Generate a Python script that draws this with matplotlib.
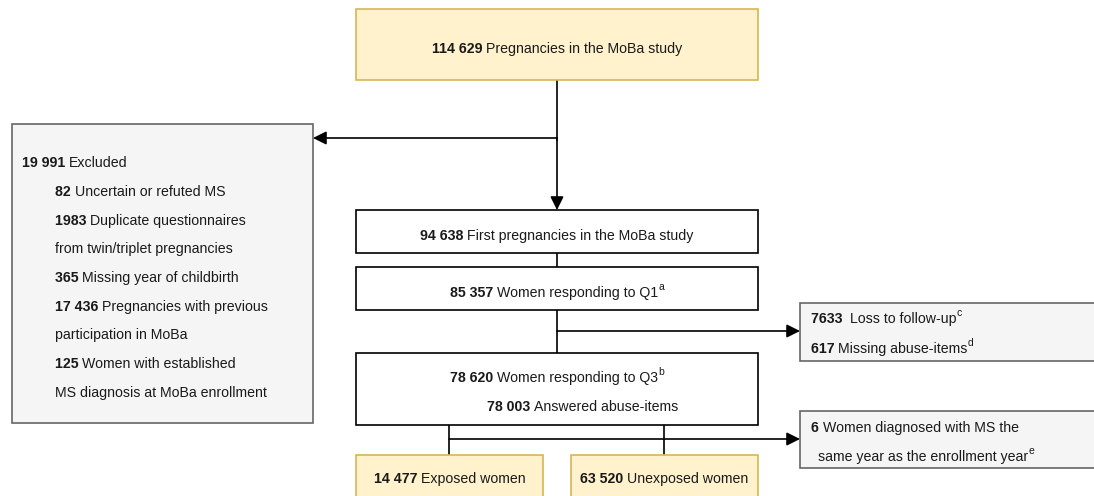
import matplotlib.pyplot as plt
from matplotlib.patches import Rectangle

plt.rcParams['font.family'] = ['Liberation Sans', 'DejaVu Sans']

# flow counts and labels
top_count, top_label = "114 629", "Pregnancies in the MoBa study"
excl_total, excl_title = "19 991", "Excluded"
excl_counts = ["82", "1983", "", "365", "17 436", "", "125", ""]
excl_labels = ["Uncertain or refuted MS", "Duplicate questionnaires",
               "from twin/triplet pregnancies", "Missing year of childbirth",
               "Pregnancies with previous", "participation in MoBa",
               "Women with established", "MS diagnosis at MoBa enrollment"]
first_count, first_label = "94 638", "First pregnancies in the MoBa study"
q1_count, q1_label = "85 357", "Women responding to Q1"
loss_counts = ["7633 ", "617"]
loss_labels = ["Loss to follow-up", "Missing abuse-items"]
loss_notes = ["c", "d"]
q3_count, q3_label = "78 620", "Women responding to Q3"
abuse_count, abuse_label = "78 003", "Answered abuse-items"
ms_count = "6"
ms_labels = ["Women diagnosed with MS the", "same year as the enrollment year"]
group_counts = ["14 477", "63 520"]
group_labels = ["Exposed women", "Unexposed women"]

YEL, YEL_E = '#fff2cc', '#d6b656'
GRY, GRY_E = '#f5f5f5', '#666666'
FS = 10.2

fig = plt.figure(figsize=(10.94, 4.96), dpi=100)
ax = fig.add_axes([0, 0, 1, 1])
ax.set_xlim(0, 1094)
ax.set_ylim(496, 0)
ax.axis('off')
renderer = fig.canvas.get_renderer()


def box(x0, y0, x1, y1, fc='white', ec='black'):
    ax.add_patch(Rectangle((x0, y0), x1 - x0, y1 - y0, facecolor=fc,
                           edgecolor=ec, lw=1.2, zorder=2))


def rich(x, y, parts, ha='left'):
    # parts: (text, bold, superscript); y is the middle of the line
    base = y + 5
    items = []
    for txt, bold, sup in parts:
        t = ax.text(0, base - 7 if sup else base, txt,
                    fontsize=7.5 if sup else FS,
                    fontweight='bold' if bold else 'normal', va='baseline',
                    ha='left', color='#1a1a1a', zorder=5)
        w = t.get_window_extent(renderer).width
        items.append((t, w))
    total = sum(w for _, w in items)
    cx = x - total / 2 if ha == 'center' else x
    for t, w in items:
        t.set_x(cx)
        cx += w


def line(xs, ys):
    ax.plot(xs, ys, color='black', lw=1.2, zorder=1)


def arrow(start, tip):
    ax.annotate('', xy=tip, xytext=start,
                arrowprops=dict(arrowstyle='-|>', color='black', lw=1.2,
                                mutation_scale=20, shrinkA=0, shrinkB=0),
                zorder=3)


# top box
box(356, 9, 758, 80, YEL, YEL_E)
rich(557, 48, [(top_count + " ", True, False), (top_label, False, False)], 'center')
line([557, 557], [80, 140])
arrow((557, 138), (557, 210))
arrow((557, 138), (313, 138))

# excluded box
box(12, 124, 313, 423, GRY, GRY_E)
rich(22, 162, [(excl_total + " ", True, False), (excl_title, False, False)])
for i, (c, lab) in enumerate(zip(excl_counts, excl_labels)):
    parts = [(c + " ", True, False)] if c else []
    rich(55, 191 + i * 28.7, parts + [(lab, False, False)])

# main chain
box(356, 210, 758, 253)
rich(557, 235, [(first_count + " ", True, False), (first_label, False, False)], 'center')
line([557, 557], [253, 267])
box(356, 267, 758, 310)
rich(557, 292, [(q1_count + " ", True, False), (q1_label, False, False), ("a", False, True)], 'center')
line([557, 557], [310, 353])
arrow((557, 331), (800, 331))

box(800, 303, 1100, 361, GRY, GRY_E)
for i in range(2):
    rich(811, 318 + i * 30, [(loss_counts[i] + " ", True, False),
                             (loss_labels[i], False, False),
                             (loss_notes[i], False, True)])

box(356, 353, 758, 425)
rich(557, 377, [(q3_count + " ", True, False), (q3_label, False, False), ("b", False, True)], 'center')
rich(583, 406, [(abuse_count + " ", True, False), (abuse_label, False, False)], 'center')

line([449, 449], [425, 455])
line([664, 664], [425, 455])
arrow((449, 439), (800, 439))

box(800, 411, 1100, 468, GRY, GRY_E)
rich(811, 427, [(ms_count + " ", True, False), (ms_labels[0], False, False)])
rich(818, 456, [(ms_labels[1], False, False), ("e", False, True)])

# bottom groups
for (x0, x1), c, lab in zip([(356, 543), (571, 758)], group_counts, group_labels):
    box(x0, 455, x1, 510, YEL, YEL_E)
    rich((x0 + x1) / 2, 478, [(c + " ", True, False), (lab, False, False)], 'center')

fig.savefig('out.png', dpi=100)
